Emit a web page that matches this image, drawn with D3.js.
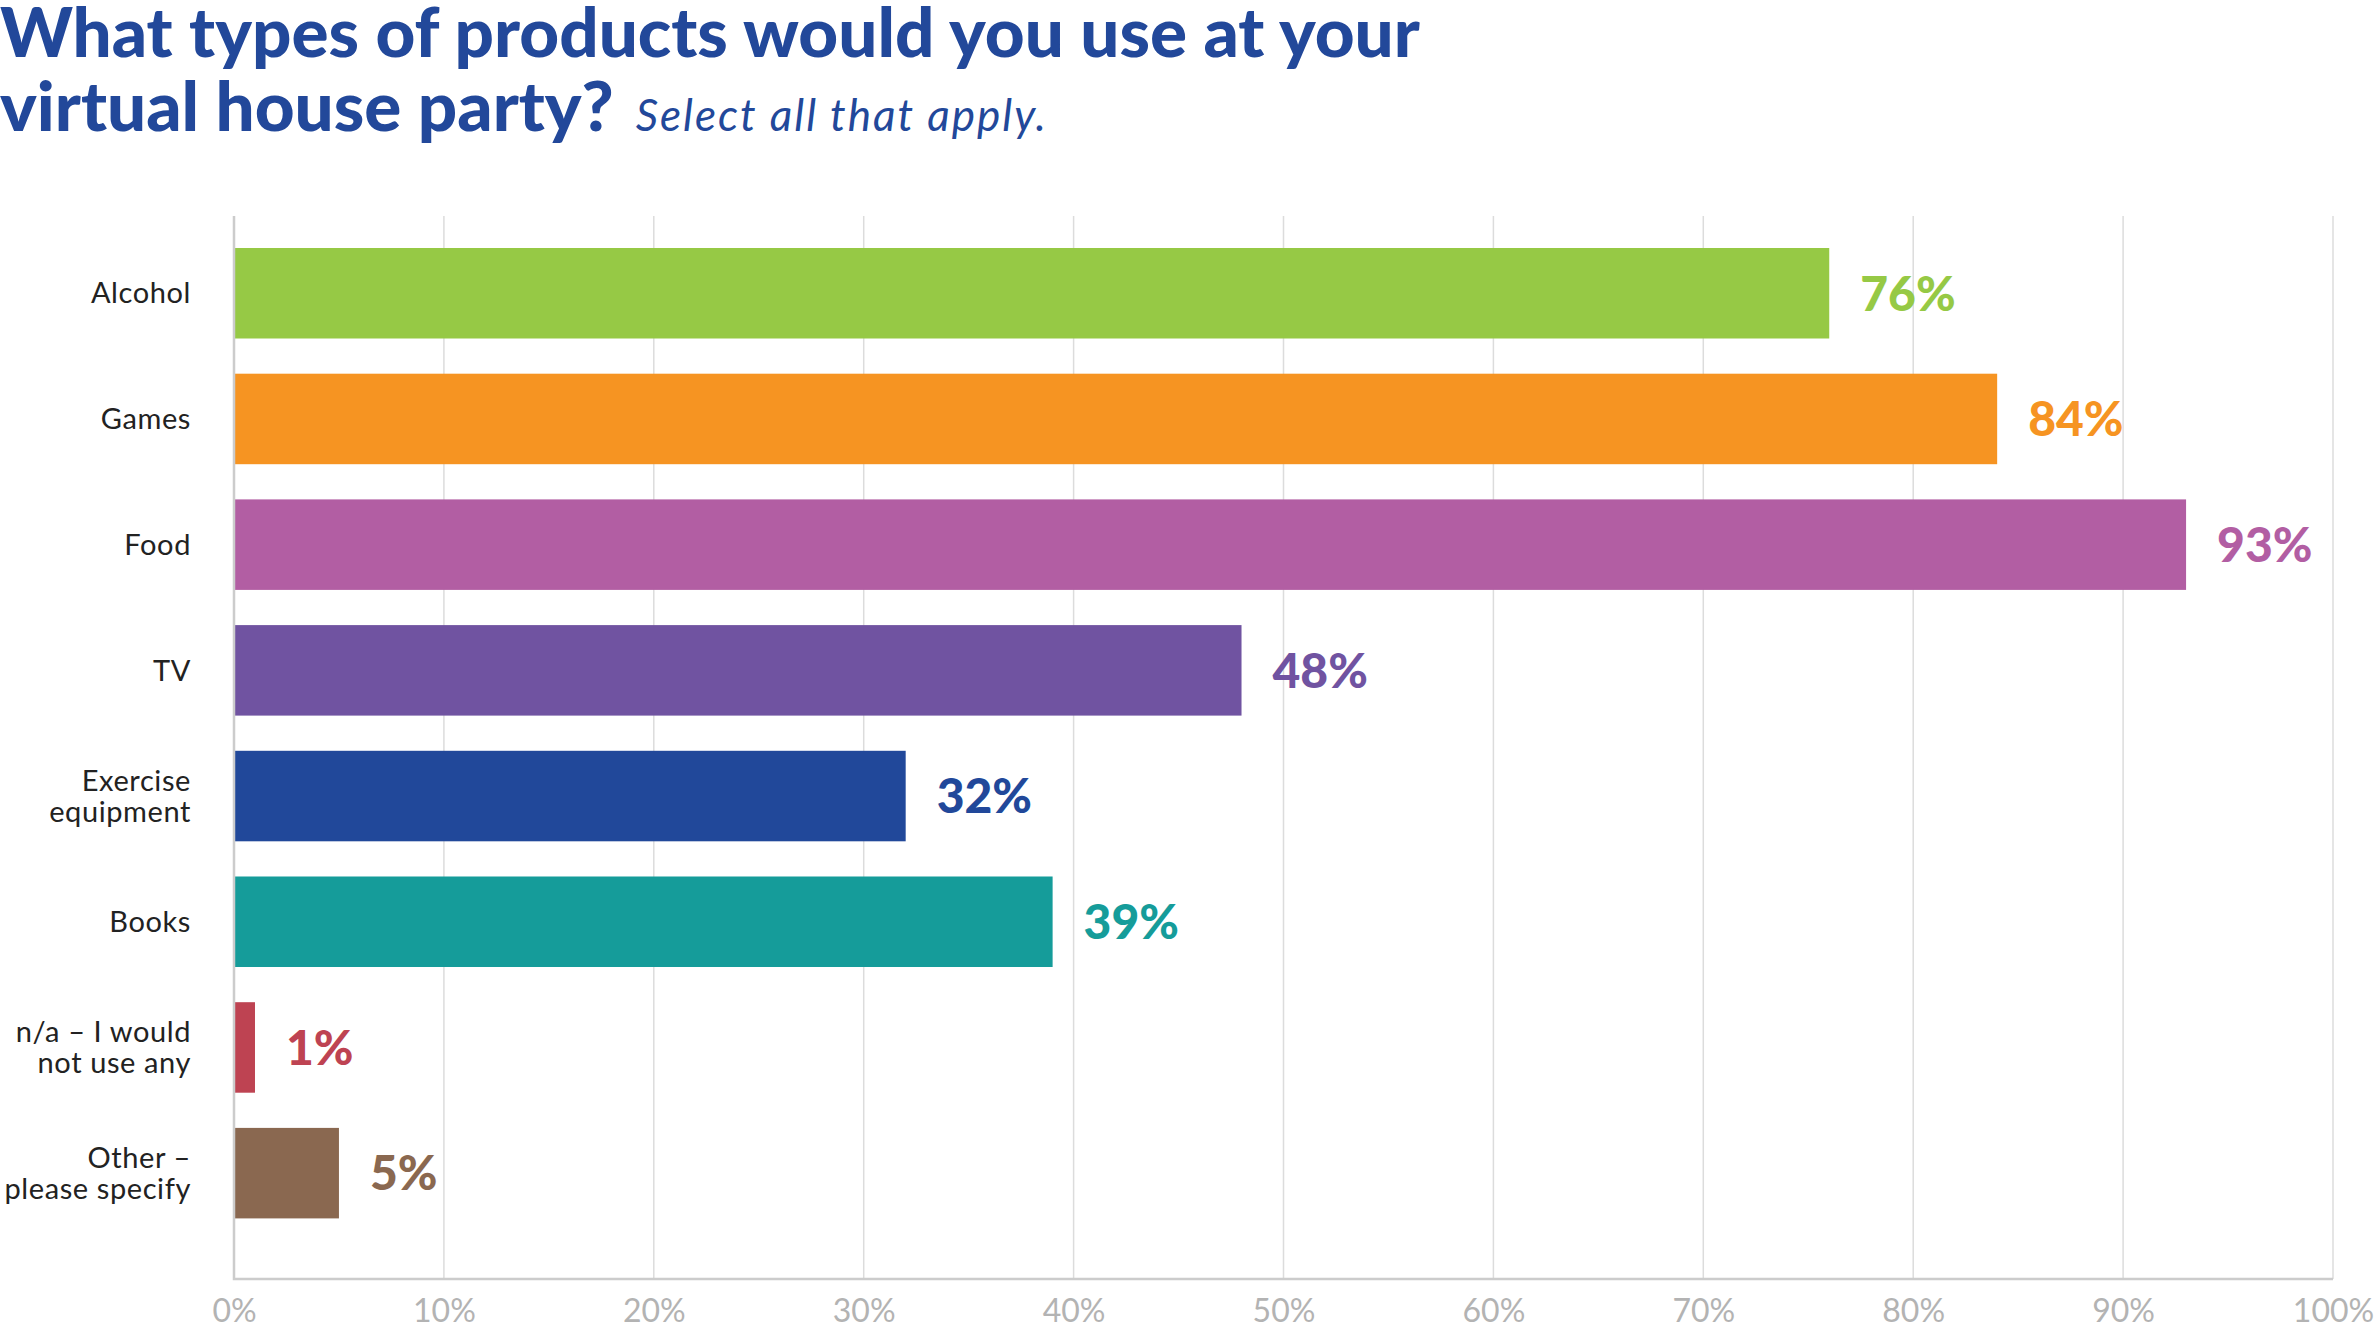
<!DOCTYPE html>
<html>
<head>
<meta charset="utf-8">
<script src="https://cdn.jsdelivr.net/npm/d3@7"></script>
<style>
  body { margin: 0; background: #fff; }
  svg { display: block; }
  text { font-family: Lato, "Open Sans", sans-serif; }
</style>
</head>
<body>
<div id="chart"></div>
<script>
// chart data
var categories = ["Alcohol", "Games", "Food", "TV", "Exercise\nequipment", "Books",
  "n/a \u2013 I would\nnot use any", "Other \u2013\nplease specify"];
var values = [76, 84, 93, 48, 32, 39, 1, 5];
var colors = ["#96c945", "#f69422", "#b25ea3", "#7053a1", "#21489a", "#159c9a", "#be4352", "#8a6850"];
var ticks = [0, 10, 20, 30, 40, 50, 60, 70, 80, 90, 100];

var W = 2377, H = 1332;
var plot = { left: 234, right: 2333, top: 216, bottom: 1279 };
var blue = "#22489a";

var svg = d3.select("#chart").append("svg")
    .attr("width", W)
    .attr("height", H);

// title
var title = svg.append("g");
var t1 = title.append("text")
    .attr("x", 0)
    .attr("y", 57)
    .attr("fill", blue)
    .attr("font-weight", 900)
    .attr("font-size", 62)
    .text("What types of products would you use at your");
// fit first line to the width in the picture
var len = t1.node().getComputedTextLength();
var fs = 62 * 1420 / len;
t1.attr("font-size", fs);

var t2 = title.append("text")
    .attr("x", 0)
    .attr("y", 131)
    .attr("fill", blue)
    .attr("font-weight", 900)
    .attr("font-size", fs)
    .text("virtual house party?");
title.append("text")
    .attr("x", t2.node().getComputedTextLength() + 22)
    .attr("y", 131)
    .attr("fill", blue)
    .attr("font-style", "italic")
    .attr("font-size", 44)
    .attr("letter-spacing", 2)
    .text("Select all that apply.");

// scales
var x = d3.scaleLinear().domain([0, 100]).range([plot.left, plot.right]);
var y = d3.scaleBand()
    .domain(categories)
    .range([230.4, 1236])
    .paddingInner(0.28)
    .paddingOuter(0.14);

// gridlines
svg.append("g")
    .selectAll("line")
    .data(ticks.slice(1))
    .join("line")
    .attr("x1", function(d) { return x(d); })
    .attr("x2", function(d) { return x(d); })
    .attr("y1", plot.top)
    .attr("y2", plot.bottom)
    .attr("stroke", "#dcdcdc")
    .attr("stroke-width", 1.5);

// x axis
var xAxis = svg.append("g")
    .attr("transform", "translate(0," + plot.bottom + ")")
    .call(d3.axisBottom(x).tickValues(ticks).tickSize(0).tickPadding(20)
        .tickFormat(function(d) { return d + "%"; }));
xAxis.select(".domain").remove();
xAxis.selectAll("text")
    .attr("font-family", "Lato, sans-serif")
    .attr("font-size", 32)
    .attr("fill", "#b3b3b3");

// bars
svg.append("g")
    .selectAll("rect")
    .data(values)
    .join("rect")
    .attr("x", x(0))
    .attr("y", function(d, i) { return y(categories[i]); })
    .attr("width", function(d) { return x(d) - x(0); })
    .attr("height", y.bandwidth())
    .attr("fill", function(d, i) { return colors[i]; });

// axis frame (left and bottom)
svg.append("path")
    .attr("d", "M" + plot.left + "," + plot.top + "V" + plot.bottom + "H" + plot.right)
    .attr("fill", "none")
    .attr("stroke", "#cccccc")
    .attr("stroke-width", 2.5);

// value labels
svg.append("g")
    .selectAll("text")
    .data(values)
    .join("text")
    .attr("x", function(d) { return x(d) + 31; })
    .attr("y", function(d, i) { return y(categories[i]) + y.bandwidth() / 2; })
    .attr("dy", "0.36em")
    .attr("font-size", 48)
    .attr("font-weight", 900)
    .attr("fill", function(d, i) { return colors[i]; })
    .text(function(d) { return d + "%"; });

// category labels
var lab = svg.append("g")
    .selectAll("text")
    .data(categories)
    .join("text")
    .attr("text-anchor", "end")
    .attr("font-size", 29)
    .attr("letter-spacing", 0.6)
    .attr("fill", "#222")
    .attr("transform", function(d) {
        return "translate(191," + (y(d) + y.bandwidth() / 2) + ")";
    });
lab.each(function(d) {
    var lines = d.split("\n");
    var el = d3.select(this);
    lines.forEach(function(l, k) {
        el.append("tspan")
            .attr("x", 0)
            .attr("y", (k - (lines.length - 1) / 2) * 31)
            .attr("dy", "0.35em")
            .text(l);
    });
});
</script>
</body>
</html>
